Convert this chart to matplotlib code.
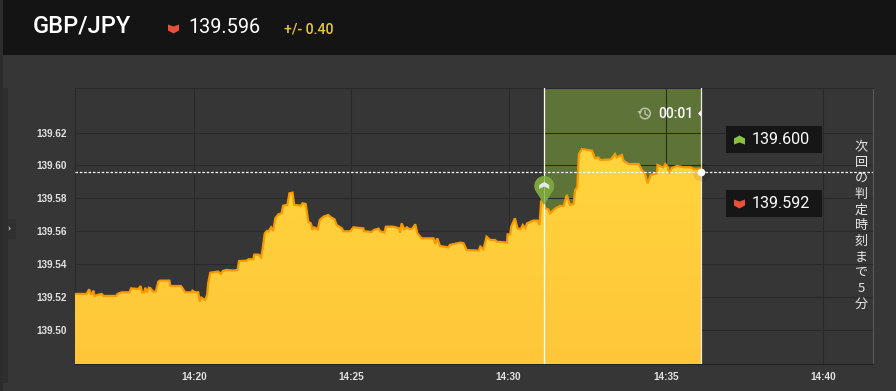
import matplotlib
matplotlib.use("Agg")
import matplotlib.pyplot as plt
from matplotlib.patches import Rectangle, Polygon, Circle, Arc
import numpy as np

# seconds after 14:00:00
times = [973, 995, 1000, 1003, 1006, 1008, 1010, 1016, 1024, 1027, 1052, 1054, 1062, 1077, 1080, 1094, 1098, 1101,
         1105, 1107, 1110, 1114, 1117, 1122, 1127, 1132, 1135, 1153, 1155, 1175, 1179, 1183, 1196, 1197, 1202, 1208,
         1211, 1214, 1221, 1225, 1227, 1231, 1246, 1251, 1255, 1262, 1275, 1283, 1286, 1300, 1304, 1313, 1315, 1323,
         1328, 1331, 1335, 1339, 1342, 1347, 1351, 1355, 1361, 1367, 1370, 1378, 1382, 1388, 1391, 1404, 1407, 1413,
         1418, 1423, 1426, 1429, 1436, 1440, 1447, 1456, 1461, 1468, 1472, 1482, 1485, 1498, 1504, 1523, 1524, 1539,
         1543, 1552, 1555, 1563, 1566, 1580, 1591, 1593, 1596, 1601, 1606, 1611, 1617, 1622, 1626, 1634, 1657, 1660,
         1664, 1669, 1685, 1688, 1708, 1714, 1720, 1743, 1746, 1752, 1758, 1765, 1774, 1777, 1797, 1798, 1803, 1805,
         1812, 1817, 1823, 1827, 1832, 1835, 1847, 1855, 1859, 1862, 1867, 1870, 1876, 1879, 1889, 1898, 1905, 1911,
         1917, 1924, 1927, 1931, 1934, 1940, 1959, 1965, 1971, 1975, 1995, 2003, 2006, 2016, 2019, 2029, 2048, 2054,
         2060, 2065, 2071, 2083, 2084, 2095, 2099, 2104, 2106, 2111, 2121, 2134, 2146, 2153, 2167]
prices = [139.5219, 139.5219, 139.5247, 139.5219, 139.5219, 139.5239, 139.5207, 139.5213, 139.5219, 139.5207,
          139.5207, 139.5219, 139.5229, 139.5229, 139.5253, 139.5249, 139.5267, 139.5229, 139.5229, 139.5257,
          139.5229, 139.5257, 139.5253, 139.5233, 139.5233, 139.5294, 139.5300, 139.5300, 139.5267, 139.5267,
          139.5249, 139.5229, 139.5229, 139.5239, 139.5229, 139.5229, 139.5172, 139.5197, 139.5182, 139.5213,
          139.5284, 139.5348, 139.5355, 139.5340, 139.5359, 139.5365, 139.5361, 139.5365, 139.5419, 139.5421,
          139.5430, 139.5430, 139.5458, 139.5458, 139.5442, 139.5496, 139.5588, 139.5602, 139.5598, 139.5624,
          139.5602, 139.5679, 139.5703, 139.5709, 139.5756, 139.5760, 139.5831, 139.5835, 139.5760, 139.5756,
          139.5770, 139.5766, 139.5658, 139.5648, 139.5608, 139.5624, 139.5612, 139.5669, 139.5689, 139.5699,
          139.5685, 139.5673, 139.5638, 139.5618, 139.5600, 139.5600, 139.5624, 139.5618, 139.5600, 139.5596,
          139.5608, 139.5616, 139.5600, 139.5592, 139.5628, 139.5628, 139.5618, 139.5592, 139.5648, 139.5612,
          139.5624, 139.5612, 139.5618, 139.5642, 139.5588, 139.5557, 139.5557, 139.5523, 139.5557, 139.5511,
          139.5502, 139.5517, 139.5531, 139.5527, 139.5486, 139.5482, 139.5507, 139.5490, 139.5567, 139.5547,
          139.5547, 139.5537, 139.5531, 139.5581, 139.5581, 139.5628, 139.5679, 139.5618, 139.5612, 139.5638,
          139.5618, 139.5648, 139.5665, 139.5665, 139.5638, 139.5786, 139.5770, 139.5739, 139.5733, 139.5709,
          139.5739, 139.5754, 139.5754, 139.5821, 139.5760, 139.5766, 139.5851, 139.5867, 139.6070, 139.6100,
          139.6090, 139.6043, 139.6049, 139.6033, 139.6037, 139.6070, 139.6049, 139.6064, 139.6029, 139.6009,
          139.6009, 139.5972, 139.5952, 139.5891, 139.5942, 139.5952, 139.6003, 139.5989, 139.6009, 139.5989,
          139.5952, 139.5983, 139.5997, 139.5989, 139.5989, 139.5981, 139.5981]

y_ticks = [139.50, 139.52, 139.54, 139.56, 139.58, 139.60, 139.62]
x_ticks = [1200, 1500, 1800, 2100, 2400]
x_tick_labels = ["14:20", "14:25", "14:30", "14:35", "14:40"]
entry_time = 1868
entry_price = 139.576
end_time = 2167
current_price = 139.596
ask_price = "139.600"
bid_price = "139.592"
pair = "GBP/JPY"
quote = "139.596"
spread = "+/- 0.40"
countdown = "00:01"
next_label = "次回の判定時刻まで5分"

W, H = 896, 391
BG = "#363636"
GRID = "#292929"
UP = "#8cbf3f"
DOWN = "#e8503a"

fig = plt.figure(figsize=(W / 100, H / 100), dpi=100, facecolor=BG)
ax = fig.add_axes([75 / W, 1 - 364 / H, (873 - 75) / W, (364 - 88) / H], facecolor=BG)
ax.set_xlim(973, 2495)
ax.set_ylim(139.4793, 139.6471)

ax.axvspan(entry_time, end_time, color="#5d7338", lw=0, zorder=1)
ax.set_xticks(x_ticks)
ax.set_xticklabels(x_tick_labels)
ax.set_yticks(y_ticks)
ax.set_yticklabels([f"{v:.2f}" for v in y_ticks])
ax.grid(True, color=GRID, lw=0.75, zorder=2)
ax.set_axisbelow(False)
for line in ax.get_xgridlines() + ax.get_ygridlines():
    line.set_zorder(2)
ax.tick_params(length=0, labelcolor="#e2e2e2")
for lab in ax.get_xticklabels() + ax.get_yticklabels():
    lab.set_family("Liberation Sans")
    lab.set_fontsize(7.2)
    lab.set_fontweight("bold")
ax.tick_params(axis="x", pad=6)
ax.tick_params(axis="y", pad=6)
for side, col in [("top", "#2a2a2a"), ("bottom", "#232323"), ("left", "#2a2a2a"), ("right", "#5a5a5a")]:
    ax.spines[side].set_color(col)
    ax.spines[side].set_linewidth(0.8)

# area with a soft vertical gradient, clipped to the price line
fill = ax.fill_between(times, prices, ax.get_ylim()[0], color="none", lw=0, zorder=3)
grad = np.linspace(0, 1, 256).reshape(-1, 1)
grad_cmap = matplotlib.colors.LinearSegmentedColormap.from_list("g", ["#ffd53d", "#ffc63a"])
img = ax.imshow(grad, cmap=grad_cmap, aspect="auto", zorder=3,
                extent=[times[0], times[-1], ax.get_ylim()[0], 139.611])
img.set_clip_path(fill.get_paths()[0], transform=ax.transData)
ax.set_xlim(973, 2495)
ax.set_ylim(139.4793, 139.6471)
ax.plot(times, prices, color="#f79a00", lw=1.6, zorder=4, solid_joinstyle="miter")

ax.axvline(entry_time, color="white", lw=0.9, zorder=5)
ax.axvline(end_time, color="#e8e8e8", lw=0.9, zorder=5)
ax.axhline(current_price, color="white", lw=0.9, ls=(0, (2, 1.5)), zorder=6)
ax.plot([end_time], [current_price], "o", ms=13, color="black", alpha=0.08, mew=0, zorder=6)
ax.plot([end_time], [current_price], "o", ms=5.5, color="white", mew=0, zorder=7)


def to_px(t, p):
    x, y = ax.transData.transform((t, p))
    return x, H - y


# overlay in pixel coordinates for the page furniture
ov = fig.add_axes([0, 0, 1, 1], facecolor="none")
ov.set_xlim(0, W)
ov.set_ylim(H, 0)
ov.axis("off")
ov.add_patch(Rectangle((3, 0), W - 3, 55, color="#141414", lw=0))
ov.add_patch(Rectangle((0, 0), 3, H, color="#2c2c2c", lw=0))
ov.add_patch(Rectangle((3, 88), 5, 295, color="#2e2e2e", lw=0))
ov.add_patch(Rectangle((8, 219), 8, 20, color="#303030", lw=0))
ov.add_patch(Polygon([(8.5, 226), (11, 228.5), (8.5, 231), (9, 228.5)], color="#a8a8a8", lw=0))


def chevron(cx, cy, color, up=True):
    s = 1 if up else -1
    pts = [(cx - 5.5, cy + s * 4.5), (cx - 5.5, cy - s * 1.5), (cx, cy - s * 4.5), (cx + 5.5, cy - s * 1.5),
           (cx + 5.5, cy + s * 4.5), (cx, cy + s * 2.5)]
    ov.add_patch(Polygon(pts, closed=True, color=color, lw=0, zorder=5))


ov.text(33, 26, pair, family="Roboto", fontweight="medium", fontsize=17, color="white", va="center", ha="left")
chevron(173.5, 29, DOWN, up=False)
ov.text(188, 27.5, quote, family="Roboto", fontsize=14.3, color="white", va="center", ha="left")
ov.text(284, 29, spread, family="Roboto", fontweight="medium", fontsize=10.2, color="#e6c83a", va="center", ha="left")

# price boxes
for y0, txt, col, up in [(126, ask_price, UP, True), (190, bid_price, DOWN, False)]:
    ov.add_patch(Rectangle((726, y0), 96, 27, color="#161616", lw=0, zorder=4))
    chevron(739.5, y0 + 14, col, up=up)
    ov.text(752, y0 + 14, txt, family="Roboto", fontsize=11.6, color="white", va="center", ha="left", zorder=5)

# countdown
ov.text(658, 114, countdown, family="Roboto", fontweight="medium", fontsize=10, color="white", va="center", ha="left")
ov.add_patch(Arc((645, 113.5), 10.5, 10.5, theta1=-150, theta2=160, ec="#b9c4a6", lw=1.1))
ov.add_patch(Polygon([(637.5, 111), (642, 111), (640, 115)], color="#b9c4a6", lw=0))
ov.plot([645, 645, 648], [110.5, 114, 115.5], color="#b9c4a6", lw=1)
ov.add_patch(Polygon([(698, 113.5), (701, 110.5), (701, 116.5)], color="white", lw=0))

# entry pin, a disc sitting on a point
px, py = to_px(entry_time, entry_price)
ov.add_patch(Circle((px, py - 19), 10, color="#7ba53c", lw=0, zorder=6))
ov.add_patch(Polygon([(px - 9, py - 15), (px + 9, py - 15), (px, py)], color="#7ba53c", lw=0, zorder=6))
ov.add_patch(Polygon([(px - 5, py - 16), (px - 5, py - 20), (px, py - 23), (px + 5, py - 20), (px + 5, py - 16),
                      (px, py - 18.5)], color="#e6e6e6", lw=0, zorder=7))
ov.plot([px, px], [py - 29, py], color="white", lw=0.6, alpha=0.3, zorder=7)

ov.text(861, 225.5, "\n".join(next_label), family=["Noto Sans CJK JP", "DejaVu Sans"], fontsize=9.4,
        color="#e8e8e8", ha="center", va="center", ma="center", linespacing=1.27)

fig.savefig("out.png", dpi=100, facecolor=BG)
